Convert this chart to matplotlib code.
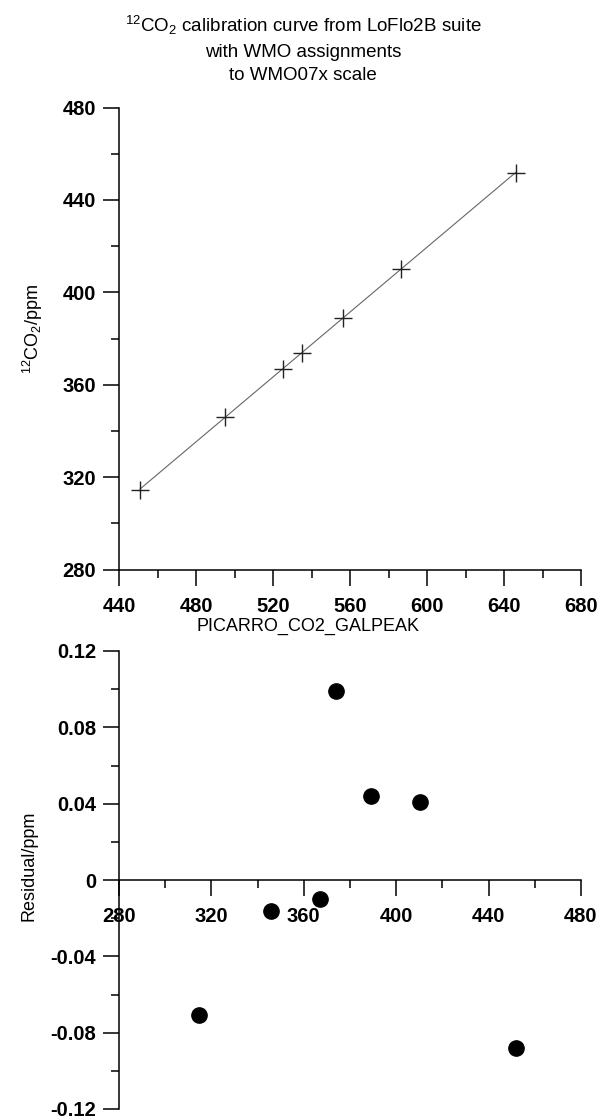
import matplotlib
matplotlib.use('Agg')
import matplotlib.pyplot as plt
import numpy as np
from matplotlib.ticker import MultipleLocator, FixedLocator, FixedFormatter

# данные калибровки
picarro = [450.9, 495.0, 525.0, 535.2, 556.5, 586.4, 646.1]
assigned = [314.6, 346.0, 366.9, 373.9, 389.0, 410.2, 451.7]
residuals = [-0.071, -0.016, -0.010, 0.099, 0.044, 0.041, -0.088]

top_xticks = [440, 480, 520, 560, 600, 640, 680]
top_yticks = [280, 320, 360, 400, 440, 480]
bot_xticks = [280, 320, 360, 400, 440, 480]
bot_yticks = [-0.12, -0.08, -0.04, 0, 0.04, 0.08, 0.12]
bot_ylabels = ['-0.12', '-0.08', '-0.04', '0', '0.04', '0.08', '0.12']

plt.rcParams['font.family'] = ['Liberation Sans', 'DejaVu Sans']
plt.rcParams['mathtext.fontset'] = 'custom'
plt.rcParams['mathtext.rm'] = 'Liberation Sans'
plt.rcParams['mathtext.it'] = 'Liberation Sans:italic'
plt.rcParams['mathtext.bf'] = 'Liberation Sans:bold'
plt.rcParams['axes.unicode_minus'] = False

W, H = 606, 1120
fig = plt.figure(figsize=(W / 100, H / 100), dpi=100)

tick_size = 14.5
lab_size = 13


def style_axes(ax):
    for s in ['top', 'right']:
        ax.spines[s].set_visible(False)
    for s in ['left', 'bottom']:
        ax.spines[s].set_linewidth(1.1)
    ax.tick_params(which='major', direction='out', length=11.5, width=1.1)
    ax.tick_params(which='minor', direction='out', length=6, width=1.1)
    ax.tick_params(axis='x', which='major', pad=8)
    ax.tick_params(axis='y', which='major', pad=5)
    for lab in ax.get_xticklabels() + ax.get_yticklabels():
        lab.set_fontsize(tick_size)
        lab.set_fontweight('bold')


# заголовок по центру рисунка
fig.text(0.5, 1 - 49 / H,
         '$^{12}$CO$_2$ calibration curve from LoFlo2B suite\n'
         'with WMO assignments\nto WMO07x scale',
         ha='center', va='center', fontsize=13.5, linespacing=1.5)

# верхний график: калибровочная кривая
ax1 = fig.add_axes([119 / W, 1 - 569.5 / H, 462 / W, 462 / H])
fit = np.polyfit(picarro, assigned, 1)
ax1.plot(picarro, np.polyval(fit, picarro), color='#666666', lw=0.8, zorder=1)
ax1.plot(picarro, assigned, linestyle='none', marker='+', markersize=13,
         markeredgewidth=1.0, color='#222222', zorder=2)
ax1.set_xlim(440, 680)
ax1.set_ylim(280, 480)
ax1.xaxis.set_major_locator(FixedLocator(top_xticks))
ax1.yaxis.set_major_locator(FixedLocator(top_yticks))
ax1.xaxis.set_minor_locator(MultipleLocator(20))
ax1.yaxis.set_minor_locator(MultipleLocator(20))
style_axes(ax1)
ax1.set_xlabel('PICARRO_CO2_GALPEAK', fontsize=lab_size)
ax1.xaxis.set_label_coords(0.41, -0.105)
ax1.set_ylabel('$^{12}$CO$_2$/ppm', fontsize=lab_size)
ax1.yaxis.set_label_coords(-0.16, 0.52)

# нижний график: остатки
ax2 = fig.add_axes([119 / W, 1 - 1109 / H, 462 / W, 458 / H])
ax2.plot(assigned, residuals, linestyle='none', marker='o', markersize=11,
         color='black')
ax2.set_xlim(280, 480)
ax2.set_ylim(-0.12, 0.12)
ax2.spines['bottom'].set_position(('data', 0))
ax2.xaxis.set_major_locator(FixedLocator(bot_xticks))
ax2.xaxis.set_minor_locator(MultipleLocator(20))
ax2.yaxis.set_major_locator(FixedLocator(bot_yticks))
ax2.yaxis.set_major_formatter(FixedFormatter(bot_ylabels))
ax2.yaxis.set_minor_locator(MultipleLocator(0.02))
style_axes(ax2)
ax2.set_ylabel('Residual/ppm', fontsize=lab_size)
ax2.yaxis.set_label_coords(-0.177, 0.53)

fig.savefig('out.png', dpi=100)
